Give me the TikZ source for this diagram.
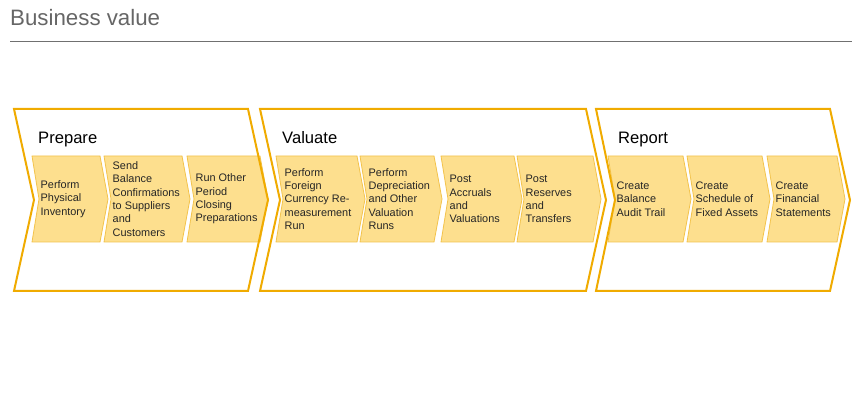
\documentclass[tikz,border=0pt]{standalone}
\usepackage{fontspec}
\setmainfont{Liberation Sans}
\definecolor{gold}{HTML}{F0AB00}
\definecolor{boxfill}{HTML}{FDDF8E}
\definecolor{boxline}{HTML}{F3C34C}
\definecolor{titlegray}{HTML}{666666}
\definecolor{rulegray}{HTML}{707070}
\begin{document}
\begin{tikzpicture}[x=1pt,y=-1pt,
  phasebox/.style={draw=gold,line width=2pt,line join=miter},
  stepfill/.style={fill=boxfill,draw=boxline,line width=0.8pt},
  steptext/.style={anchor=west,align=left,inner sep=0pt,font=\fontsize{10.9}{13.3}\selectfont,text=black!85},
  phaselabel/.style={anchor=base west,inner sep=0pt,font=\fontsize{16.6}{20}\selectfont,text=black},
  ]
\useasboundingbox (0,0) rectangle (863,414);
\node[anchor=base west,inner sep=0pt,font=\fontsize{22.3}{26}\selectfont,text=titlegray] (title) at (10,26) {Business value};
\coordinate (ruleL) at (10,41);
\coordinate (ruleR) at (852,41);
\draw[rulegray,line width=0.9pt] (ruleL) -- (ruleR);
% outer phase chevrons (white fill)
\foreach \a/\b/\nt in {14/248/34,260/586/280,596/830/615}{
  \fill[white] (\a,109) -- (\b,109) -- (\b+20,200) -- (\b,291) -- (\a,291) -- (\nt,200) -- cycle;
}
% step chevrons
\foreach \n/\a/\b/\t in {
  p1/32/100/{Perform\\Physical\\Inventory},
  p2/104/182/{Send\\Balance\\Confirmations\\to Suppliers\\and\\Customers},
  p3/187/260/{Run Other\\Period\\Closing\\Preparations},
  v1/276/357/{Perform\\Foreign\\Currency Re-\\measurement\\Run},
  v2/360/434/{Perform\\Depreciation\\and Other\\Valuation\\Runs},
  v3/441/514/{Post\\Accruals\\and\\Valuations},
  v4/517/593/{Post\\Reserves\\and\\Transfers},
  r1/608/683/{Create\\Balance\\Audit Trail},
  r2/687/762/{Create\\Schedule of\\Fixed Assets},
  r3/767/837/{Create\\Financial\\Statements}}{
  \draw[stepfill] (\a,156) -- (\b,156) -- (\b+8,199) -- (\b,242) -- (\a,242) -- (\a+7,199) -- cycle;
  \node[steptext] (\n) at (\a+8.5,199) {\t};
}
% outer phase chevrons (stroke)
\foreach \a/\b/\nt in {14/248/34,260/586/280,596/830/615}{
  \draw[phasebox] (\a,109) -- (\b,109) -- (\b+20,200) -- (\b,291) -- (\a,291) -- (\nt,200) -- cycle;
}
\node[phaselabel] (prep) at (38,144) {Prepare};
\node[phaselabel] (val) at (282,144) {Valuate};
\node[phaselabel] (rep) at (618,144) {Report};
\end{tikzpicture}
\end{document}
